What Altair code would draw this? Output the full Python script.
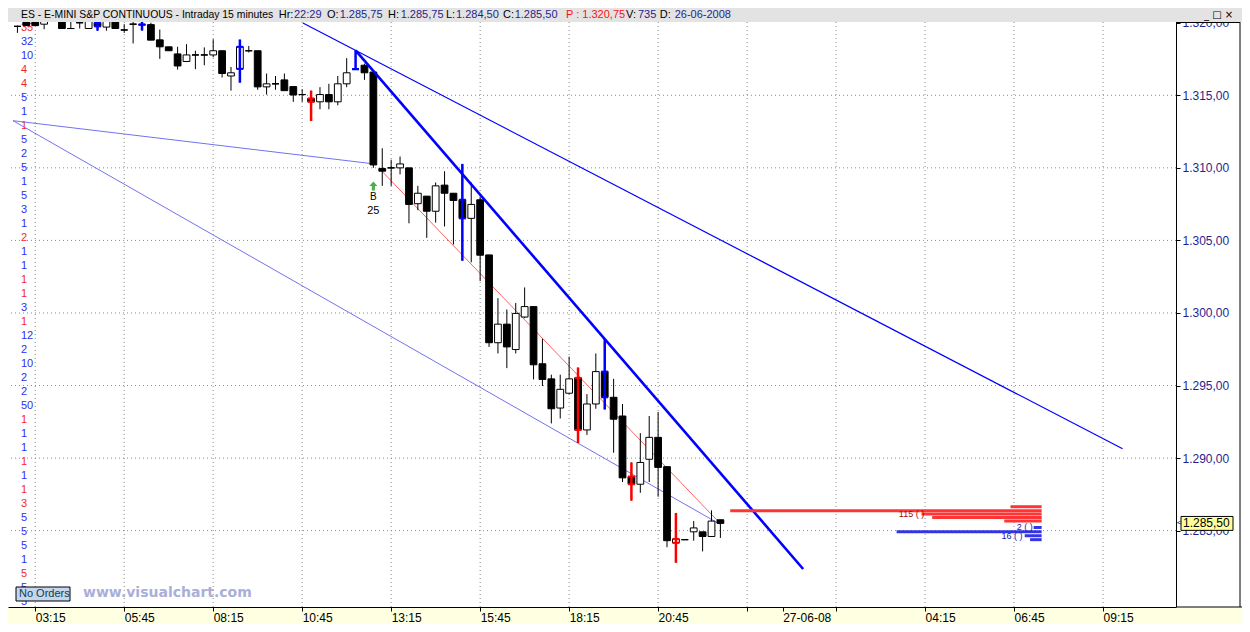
import altair as alt
import pandas as pd

# ---------------- candle data (15-minute bars, index 0 = 03:15) ----------------
bar_index = list(range(-2, 78))
opens = [1319.75, 1320.25, 1320.25, 1319.9, 1320.5, 1320.25, 1319.6, 1320.0, 1319.6, 1320.0,
         1319.7, 1320.1, 1319.5, 1319.9, 1319.87, 1319.87, 1318.82, 1318.34, 1317.85, 1317.33,
         1317.78, 1317.78, 1317.78, 1318.07, 1316.33, 1316.82, 1318.07, 1318.07, 1315.58, 1315.79,
         1316.06, 1315.6, 1315.05, 1314.78, 1314.55, 1315.05, 1314.55, 1315.79, 1316.8, 1317.07,
         1316.6, 1309.96, 1310.0, 1310.0, 1310.0, 1307.53, 1308.05, 1307.01, 1308.81, 1308.25,
         1307.8, 1306.52, 1307.8, 1304.0, 1297.95, 1299.23, 1297.48, 1299.72, 1300.44, 1296.5,
         1295.46, 1293.45, 1294.47, 1295.53, 1291.94, 1293.73, 1295.96, 1294.19, 1292.9, 1288.73,
         1288.2, 1289.92, 1291.43, 1289.41, 1284.16, 1284.38, 1284.92, 1284.92, 1284.6, 1285.75]
highs = [1319.8, 1320.4, 1320.4, 1320.1, 1320.75, 1320.4, 1320.1, 1320.0, 1320.2, 1320.2,
         1320.2, 1320.2, 1319.9, 1320.1, 1320.1, 1320.0, 1319.53, 1318.34, 1318.34, 1318.52,
         1318.07, 1318.3, 1318.86, 1318.07, 1316.95, 1318.84, 1318.4, 1318.07, 1316.5, 1316.33,
         1316.5, 1315.6, 1315.42, 1315.32, 1315.56, 1315.79, 1316.33, 1317.56, 1318.1, 1317.18,
         1316.6, 1311.35, 1310.56, 1310.78, 1310.0, 1308.76, 1308.05, 1308.99, 1309.77, 1308.25,
         1310.27, 1308.99, 1308.03, 1304.0, 1301.02, 1300.24, 1300.69, 1301.76, 1300.44, 1298.22,
         1295.75, 1295.75, 1296.99, 1296.24, 1294.41, 1297.21, 1298.2, 1295.46, 1293.73, 1289.7,
         1291.72, 1292.9, 1293.18, 1289.41, 1286.22, 1284.38, 1285.66, 1284.92, 1286.4, 1285.75]
lows = [1319.3, 1319.8, 1319.8, 1319.55, 1320.25, 1319.6, 1319.6, 1319.6, 1319.6, 1319.45,
        1319.45, 1319.6, 1319.3, 1318.57, 1319.46, 1318.8, 1317.51, 1318.07, 1316.77, 1317.29,
        1316.8, 1317.07, 1317.62, 1316.23, 1315.32, 1315.87, 1317.95, 1315.38, 1315.05, 1315.38,
        1315.32, 1314.55, 1314.55, 1313.23, 1314.04, 1314.04, 1314.31, 1315.56, 1316.75, 1316.06,
        1310.0, 1308.76, 1308.76, 1309.55, 1306.18, 1307.08, 1305.18, 1306.23, 1305.96, 1304.72,
        1303.6, 1303.49, 1302.2, 1297.66, 1297.21, 1296.2, 1297.21, 1299.64, 1295.42, 1294.97,
        1292.39, 1292.73, 1294.4, 1291.04, 1291.6, 1293.4, 1293.35, 1290.37, 1288.35, 1287.07,
        1287.61, 1288.35, 1287.34, 1283.86, 1282.79, 1284.38, 1284.31, 1283.57, 1284.6, 1284.5]
closes = [1319.75, 1319.8, 1319.8, 1320.1, 1320.5, 1319.6, 1319.6, 1320.0, 1320.1, 1319.75,
          1320.1, 1319.6, 1319.5, 1319.9, 1319.87, 1318.8, 1318.34, 1318.07, 1317.02, 1317.78,
          1317.78, 1317.78, 1318.07, 1316.5, 1316.55, 1318.34, 1318.07, 1315.58, 1315.79, 1315.79,
          1315.32, 1315.02, 1315.05, 1314.55, 1315.05, 1314.55, 1315.79, 1316.55, 1316.8, 1316.55,
          1310.2, 1309.77, 1310.0, 1310.27, 1307.48, 1308.25, 1307.01, 1308.76, 1308.25, 1307.75,
          1306.52, 1307.48, 1303.98, 1297.95, 1299.23, 1297.66, 1299.97, 1300.44, 1296.43, 1295.42,
          1293.4, 1294.74, 1295.46, 1291.94, 1293.73, 1295.96, 1294.19, 1292.68, 1288.64, 1288.2,
          1289.7, 1291.43, 1289.36, 1284.31, 1284.43, 1284.38, 1285.19, 1284.6, 1285.66, 1285.5]
marked_blue = [7, 12, 23, 36, 48, 64]
marked_red = [31, 61, 67, 72]

# ---------------- axis ticks ----------------
tick_pos = [0, 10, 20, 30, 40, 50, 60, 70, 80, 84, 90, 100, 110, 120]
tick_lab = ["03:15", "05:45", "08:15", "10:45", "13:15", "15:45", "18:15", "20:45",
            "", "27-06-08", "", "04:15", "06:45", "09:15"]
grid_pos = [0, 10, 20, 30, 40, 50, 60, 70, 80, 90, 100, 110, 120]
price_ticks = [1285, 1290, 1295, 1300, 1305, 1310, 1315, 1320]

# ---------------- trend lines ----------------
seg_x1 = [-2.5, -2.5, 38.6, 30.08, 36.0]
seg_y1 = [1313.25, 1313.25, 1310.0, 1319.98, 1318.1]
seg_x2 = [38.1, 76.9, 77.0, 122.2, 86.3]
seg_y2 = [1310.27, 1285.46, 1285.48, 1290.64, 1282.36]
seg_col = ["#7272f0", "#7272f0", "#ff6464", "#0000ff", "#0000ff"]
seg_w = [1, 1, 1, 1.2, 2.6]

# ---------------- order book ----------------
ob_price = [1286.65, 1286.38, 1286.15, 1285.91, 1285.66, 1285.22, 1284.92, 1284.65, 1284.38]
ob_start = [109.6, 78.1, 99.6, 100.8, 108.9, 112.2, 96.8, 111.2, 111.8]
ob_side = ["ask"] * 5 + ["bid"] * 4
ob_end = 113.1
ob_lab_text = ["115 ( )", "2 ( )", "16 ( )"]
ob_lab_x = [97.05, 112.1, 110.95]
ob_lab_p = [1286.15, 1285.25, 1284.62]
ob_lab_side = ["ask", "bid", "bid"]

# ---------------- volume-at-price ladder (left) ----------------
vol_text = ["35", "32", "10", "4", "4", "5", "1", "1", "5", "2", "5", "1", "5", "3", "1", "2",
            "1", "1", "1", "1", "3", "1", "12", "2", "10", "2", "2", "50", "1", "1", "1", "1",
            "1", "1", "3", "5", "5", "5", "1", "5", "5", "5"]
vol_side = ["r", "b", "b", "r", "r", "b", "b", "r", "b", "b", "b", "b", "b", "b", "b", "r",
            "b", "b", "r", "r", "b", "r", "b", "b", "b", "b", "b", "b", "r", "b", "b", "r",
            "b", "r", "r", "b", "b", "b", "b", "r", "b", "b"]

# ---------------- header ----------------
head_x = [13, 270.7, 286, 319, 331.7, 380, 392.7, 438, 448, 495, 506.7, 558, 618, 630, 651.7, 666.7]
head_t = ["ES - E-MINI S&P CONTINUOUS - Intraday 15 minutes", "Hr:", "22:29", "O:", "1.285,75",
          "H:", "1.285,75", "L:", "1.284,50", "C:", "1.285,50", "P : 1.320,75", "V:", "735",
          "D:", "26-06-2008"]
head_c = ["k", "k", "n", "k", "n", "k", "n", "k", "n", "k", "n", "r", "k", "n", "k", "n"]
head_fs = [10.4] + [11] * 15
last_price = 1285.5
signal_bar = 38
signal_price = 1308.75

# ---------------- layout ----------------
W, H = 1168, 585
RIGHT, TOP, BOTTOM = 66, 14, 17
FONT = "Liberation Sans"
NAVY = "#1f1f8f"
COLS = {"k": "#000000", "n": NAVY, "r": "#ff1010", "b": "#2e2ef0"}

XS = alt.Scale(domain=[-3.06, 128.2], nice=False, zero=False)
YS = alt.Scale(domain=[1279.74, 1320.05], nice=False, zero=False)

x_expr = ("[" + ",".join("'%s'" % t for t in tick_lab) + "][indexof(["
          + ",".join(str(p) for p in tick_pos) + "], datum.value)]")
XAX = alt.Axis(values=tick_pos, labelExpr=x_expr, grid=False, orient="bottom",
               labelAlign="left", labelBaseline="top", labelPadding=1, tickSize=4,
               tickColor="black", domainColor="black", labelColor="black", labelFont=FONT,
               labelFontSize=12, title=None, zindex=1, labelOverlap=False, labelFlush=False)
YAX = alt.Axis(values=price_ticks, orient="right",
               labelExpr="'1.' + replace(format(datum.value - 1000, '.2f'), '.', ',')",
               grid=False, tickSize=4, tickColor="black", domainColor="black",
               labelColor=NAVY, labelFont=FONT, labelFontSize=12, labelPadding=2,
               title=None, zindex=0, labelOverlap=False, labelFlush=False)


def X(f):
    return alt.X(f, type="quantitative", scale=XS, axis=XAX)


def Y(f):
    return alt.Y(f, type="quantitative", scale=YS, axis=YAX)


mk = []
for i in bar_index:
    if i in marked_blue:
        mk.append("#0000ff")
    elif i in marked_red:
        mk.append("#ff0000")
    else:
        mk.append("")

cdf = pd.DataFrame({"i": bar_index, "o": opens, "h": highs, "l": lows, "c": closes, "mk": mk})
one = pd.DataFrame({"k": [0]})

vgrid = alt.Chart(pd.DataFrame({"g": grid_pos})).mark_rule(
    color="#8a8a8a", strokeDash=[1, 3], strokeWidth=1).encode(x=X("g"))
hgrid = alt.Chart(pd.DataFrame({"p": price_ticks[:-1]})).mark_rule(
    color="#8a8a8a", strokeDash=[1, 3], strokeWidth=1).encode(y=Y("p"))

sdf = pd.DataFrame({"x1": seg_x1, "y1": seg_y1, "x2": seg_x2, "y2": seg_y2,
                    "col": seg_col, "w": seg_w})
thin = alt.Chart(sdf.iloc[:3]).mark_rule(clip=True).encode(
    x=X("x1"), y=Y("y1"), x2="x2", y2="y2",
    color=alt.Color("col:N", scale=None), strokeWidth=alt.StrokeWidth("w:Q", scale=None))
bluel = alt.Chart(sdf.iloc[3:]).mark_rule(clip=True).encode(
    x=X("x1"), y=Y("y1"), x2="x2", y2="y2",
    color=alt.Color("col:N", scale=None), strokeWidth=alt.StrokeWidth("w:Q", scale=None))

base = alt.Chart(cdf).transform_calculate(
    xl="datum.i - 0.38", xr="datum.i + 0.38",
    fc="datum.c >= datum.o ? '#ffffff' : '#000000'")
wick = base.mark_rule(color="black", strokeWidth=1, clip=True).encode(
    x=X("i"), y=Y("l"), y2="h")
body = base.mark_rect(stroke="black", strokeWidth=1, clip=True).encode(
    x=X("xl"), x2="xr", y=Y("o"), y2="c", fill=alt.Fill("fc:N", scale=None))
doji = base.transform_filter("datum.o == datum.c").mark_rule(
    color="black", strokeWidth=1, clip=True).encode(x=X("xl"), x2="xr", y=Y("o"))
mk_wick = base.transform_filter("datum.mk != ''").mark_rule(strokeWidth=2.5, clip=True).encode(
    x=X("i"), y=Y("l"), y2="h", color=alt.Color("mk:N", scale=None))
mk_open = base.transform_filter("datum.mk != ''").mark_rule(strokeWidth=2, clip=True).encode(
    x=X("xl"), x2="xr", y=Y("o"), color=alt.Color("mk:N", scale=None))
mk_close = base.transform_filter("datum.mk != ''").mark_rule(strokeWidth=2, clip=True).encode(
    x=X("xl"), x2="xr", y=Y("c"), color=alt.Color("mk:N", scale=None))

odf = pd.DataFrame({"p": ob_price, "s": ob_start, "side": ob_side})
odf["e"] = ob_end
odf["col"] = ["#ff3434" if s == "ask" else "#3434e6" for s in ob_side]
ob = alt.Chart(odf).mark_rule(strokeWidth=3).encode(
    x=X("s"), x2="e", y=Y("p"), color=alt.Color("col:N", scale=None))
ldf = pd.DataFrame({"t": ob_lab_text, "x": ob_lab_x, "p": ob_lab_p, "side": ob_lab_side})
ob_t1 = alt.Chart(ldf[ldf.side == "ask"]).mark_text(
    align="left", baseline="middle", fontSize=9, font=FONT, color="#b00000").encode(
    x=X("x"), y=Y("p"), text="t:N")
ob_t2 = alt.Chart(ldf[ldf.side == "bid"]).mark_text(
    align="right", baseline="middle", fontSize=9, font=FONT, color="#1a1aa0").encode(
    x=X("x"), y=Y("p"), text="t:N")

sig = pd.DataFrame({"i": [signal_bar], "p": [signal_price], "b": ["B"], "n": ["25"]})
arrow = alt.Chart(sig).mark_point(
    shape="M0,-1L0.9,0L0.35,0L0.35,1L-0.35,1L-0.35,0L-0.9,0Z", filled=True, size=80,
    color="#4cae4c", opacity=1).encode(x=X("i"), y=Y("p"))
sig_b = alt.Chart(sig).mark_text(dy=11, fontSize=10, font=FONT, color="black").encode(
    x=X("i"), y=Y("p"), text="b:N")
sig_n = alt.Chart(sig).mark_text(dy=25, fontSize=11, font=FONT, color="black").encode(
    x=X("i"), y=Y("p"), text="n:N")

pdf = pd.DataFrame({"p": [last_price], "lo": [last_price - 0.48], "hi": [last_price + 0.48],
                    "t": ["1.285,50"]})
pb_rect = alt.Chart(pdf).mark_rect(fill="#ffff9e", stroke="black", strokeWidth=1).encode(
    x=alt.value(W + 5), x2=alt.value(W + 57), y=Y("lo"), y2="hi")
pb_text = alt.Chart(pdf).mark_text(align="left", baseline="middle", fontSize=12, font=FONT,
                                   color="black").encode(
    x=alt.value(W + 7), y=Y("p"), text="t:N")
pb_arr = alt.Chart(pdf).mark_text(align="left", baseline="middle", fontSize=8, font=FONT,
                                  color="black").encode(
    x=alt.value(W + 1), y=Y("p"), text=alt.value("<"))

# header bar
hdr = [alt.Chart(one).mark_rect(fill="#e3e3e3").encode(
    x=alt.value(0), x2=alt.value(W + RIGHT), y=alt.value(-TOP), y2=alt.value(0))]
for hx, ht, hc, hf in zip(head_x, head_t, head_c, head_fs):
    hdr.append(alt.Chart(one).mark_text(align="left", baseline="middle", fontSize=hf, font=FONT,
                                        color=COLS[hc]).encode(
        x=alt.value(hx), y=alt.value(-7), text=alt.value(ht)))
hdr.append(alt.Chart(one).mark_text(align="left", baseline="middle", fontSize=10,
                                    font="DejaVu Sans", color="black").encode(
    x=alt.value(W + RIGHT - 38), y=alt.value(-7), text=alt.value("_ □ ×")))

# frame pieces
frame = [
    alt.Chart(one).mark_rect(fill="#ffffe1").encode(
        x=alt.value(0), x2=alt.value(W + RIGHT), y=alt.value(H), y2=alt.value(H + BOTTOM)),
    alt.Chart(one).mark_rule(color="black").encode(
        x=alt.value(W), x2=alt.value(W + RIGHT), y=alt.value(H)),
    alt.Chart(one).mark_rule(color="black").encode(
        x=alt.value(W), x2=alt.value(W + RIGHT - 2), y=alt.value(0.5)),
    alt.Chart(one).mark_rule(color="black").encode(
        x=alt.value(W + RIGHT - 2), y=alt.value(0), y2=alt.value(H)),
    alt.Chart(one).mark_rect(fill="#c6d6ee", stroke="black", strokeWidth=1).encode(
        x=alt.value(8), x2=alt.value(62), y=alt.value(H - 20), y2=alt.value(H - 6)),
    alt.Chart(one).mark_text(align="left", baseline="middle", fontSize=11, font=FONT,
                             color="#123c48").encode(
        x=alt.value(11), y=alt.value(H - 13), text=alt.value("No Orders")),
    alt.Chart(one).mark_text(align="left", baseline="middle", fontSize=14, font="DejaVu Sans",
                             fontWeight="bold", color="#a9afd8").encode(
        x=alt.value(75), y=alt.value(H - 14), text=alt.value("www.visualchart.com")),
]

vdf = pd.DataFrame({"row": list(range(len(vol_text))), "t": vol_text,
                    "col": [COLS[s] if s == "b" else "#f02a2a" for s in vol_side]})
vol = alt.Chart(vdf).mark_text(align="left", baseline="middle", fontSize=11, font=FONT).encode(
    x=alt.value(13),
    y=alt.Y("row:O", scale=alt.Scale(type="point", range=[6, 580], padding=0), axis=None),
    text="t:N", color=alt.Color("col:N", scale=None))

main = alt.layer(vgrid, hgrid, thin, wick, body, doji, mk_wick, mk_open, mk_close, bluel,
                 ob, ob_t1, ob_t2, arrow, sig_b, sig_n, pb_rect, pb_text, pb_arr,
                 *hdr, *frame)

chart = alt.layer(vol, main).resolve_scale(y="independent").properties(
    width=W, height=H,
    padding={"left": 0, "top": TOP, "right": RIGHT, "bottom": BOTTOM},
    autosize=alt.AutoSizeParams(type="none"),
    background="white",
).configure_view(stroke=None)

chart.save("out.html", embed_options={"renderer": "svg", "actions": False})
